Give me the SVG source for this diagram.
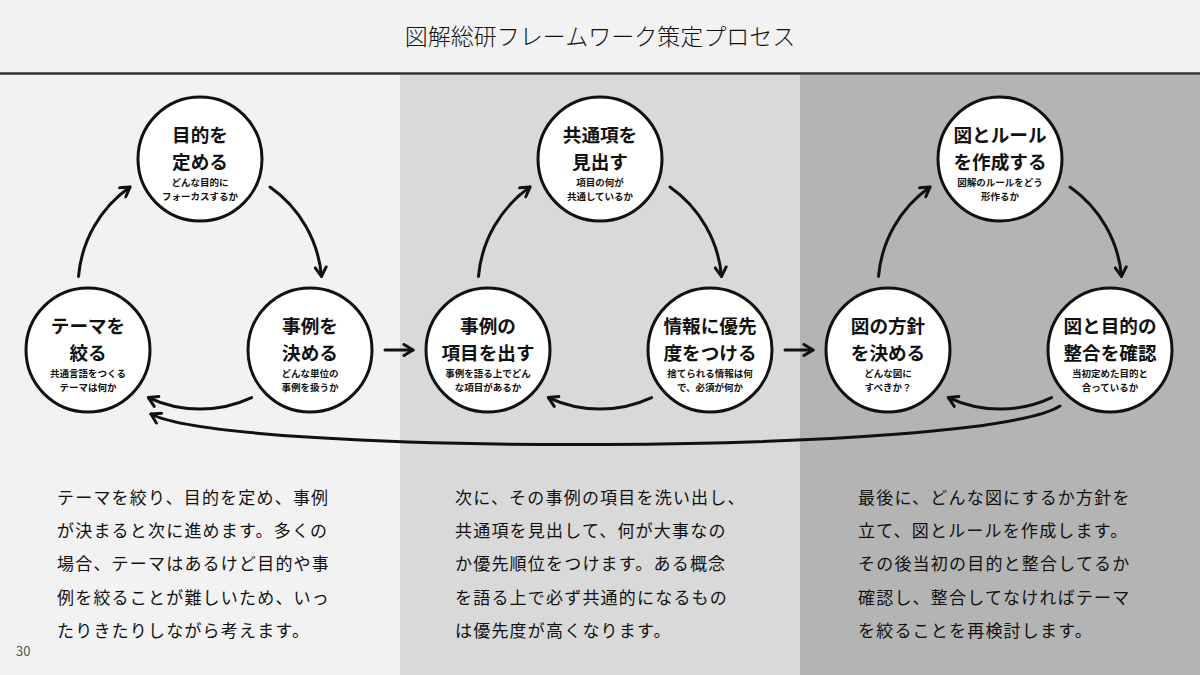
<svg xmlns="http://www.w3.org/2000/svg" width="1200" height="675" viewBox="0 0 1200 675">
<style>
text{font-family:"Noto Sans CJK JP","Noto Sans",sans-serif;fill:#111}
.lbl{text-anchor:middle;font-weight:700}
.main{font-size:18.6px}
.sub{font-size:9.5px}
.para{font-size:17px;letter-spacing:1.2px}
.node circle{fill:#fff;stroke:#111;stroke-width:3}
.conn path{fill:none;stroke:#111;stroke-width:3;stroke-linecap:round}
</style>
<defs>
<marker id="head" markerUnits="userSpaceOnUse" viewBox="0 0 14 14" markerWidth="14" markerHeight="14" refX="11" refY="7" orient="auto">
<path d="M2,1.5 L11,7 L2,12.5" fill="none" stroke="#111" stroke-width="3" stroke-linecap="round" stroke-linejoin="round"/>
</marker>
</defs>
<rect x="0" y="0" width="1200" height="675" fill="#f2f2f2"/>
<rect x="400" y="75" width="400" height="600" fill="#d9d9d9"/>
<rect x="800" y="75" width="400" height="600" fill="#b4b4b4"/>
<line x1="0" y1="73.5" x2="1200" y2="73.5" stroke="#333" stroke-width="2.5"/>
<text x="600" y="45" text-anchor="middle" style="font-size:23px;font-weight:300">図解総研フレームワーク策定プロセス</text>

<g class="conn" id="connectors">
<path d="M78.5,276.4 A122,122 0 0 1 130,187.1" marker-end="url(#head)"/>
<path d="M270,187.1 A122,122 0 0 1 321.5,276.4" marker-end="url(#head)"/>
<path d="M251.6,397.6 A122,122 0 0 1 148.4,397.6" marker-end="url(#head)"/>
<path d="M478.5,276.4 A122,122 0 0 1 530,187.1" marker-end="url(#head)"/>
<path d="M670,187.1 A122,122 0 0 1 721.5,276.4" marker-end="url(#head)"/>
<path d="M651.6,397.6 A122,122 0 0 1 548.4,397.6" marker-end="url(#head)"/>
<path d="M878.5,276.4 A122,122 0 0 1 930,187.1" marker-end="url(#head)"/>
<path d="M1070,187.1 A122,122 0 0 1 1121.5,276.4" marker-end="url(#head)"/>
<path d="M1051.6,397.6 A122,122 0 0 1 948.4,397.6" marker-end="url(#head)"/>
<path d="M385,350 L413,350" marker-end="url(#head)"/>
<path d="M785,350 L813,350" marker-end="url(#head)"/>
<path d="M1060,406 C 980,456 230,456 151,414" marker-end="url(#head)"/>
</g>

<g class="node" id="n1-purpose">
<circle cx="200" cy="159" r="62"/>
<text class="lbl"><tspan class="main" x="200" y="142">目的を</tspan><tspan class="main" x="200" y="169">定める</tspan><tspan class="sub" x="200" y="185.5">どんな目的に</tspan><tspan class="sub" x="200" y="199.5">フォーカスするか</tspan></text>
</g>
<g class="node" id="n1-theme">
<circle cx="88" cy="350" r="62"/>
<text class="lbl"><tspan class="main" x="88" y="333">テーマを</tspan><tspan class="main" x="88" y="360">絞る</tspan><tspan class="sub" x="88" y="376.5">共通言語をつくる</tspan><tspan class="sub" x="88" y="390.5">テーマは何か</tspan></text>
</g>
<g class="node" id="n1-case">
<circle cx="310" cy="350" r="62"/>
<text class="lbl"><tspan class="main" x="310" y="333">事例を</tspan><tspan class="main" x="310" y="360">決める</tspan><tspan class="sub" x="310" y="376.5">どんな単位の</tspan><tspan class="sub" x="310" y="390.5">事例を扱うか</tspan></text>
</g>

<g class="node" id="n2-common">
<circle cx="600" cy="159" r="62"/>
<text class="lbl"><tspan class="main" x="600" y="142">共通項を</tspan><tspan class="main" x="600" y="169">見出す</tspan><tspan class="sub" x="600" y="185.5">項目の何が</tspan><tspan class="sub" x="600" y="199.5">共通しているか</tspan></text>
</g>
<g class="node" id="n2-items">
<circle cx="488" cy="350" r="62"/>
<text class="lbl"><tspan class="main" x="488" y="333">事例の</tspan><tspan class="main" x="488" y="360">項目を出す</tspan><tspan class="sub" x="488" y="376.5">事例を語る上でどん</tspan><tspan class="sub" x="488" y="390.5">な項目があるか</tspan></text>
</g>
<g class="node" id="n2-priority">
<circle cx="710" cy="350" r="62"/>
<text class="lbl"><tspan class="main" x="710" y="333">情報に優先</tspan><tspan class="main" x="710" y="360">度をつける</tspan><tspan class="sub" x="710" y="376.5">捨てられる情報は何</tspan><tspan class="sub" x="710" y="390.5">で、必須が何か</tspan></text>
</g>

<g class="node" id="n3-rules">
<circle cx="1000" cy="159" r="62"/>
<text class="lbl"><tspan class="main" x="1000" y="142">図とルール</tspan><tspan class="main" x="1000" y="169">を作成する</tspan><tspan class="sub" x="1000" y="185.5">図解のルールをどう</tspan><tspan class="sub" x="1000" y="199.5">形作るか</tspan></text>
</g>
<g class="node" id="n3-policy">
<circle cx="888" cy="350" r="62"/>
<text class="lbl"><tspan class="main" x="888" y="333">図の方針</tspan><tspan class="main" x="888" y="360">を決める</tspan><tspan class="sub" x="888" y="376.5">どんな図に</tspan><tspan class="sub" x="888" y="390.5">すべきか？</tspan></text>
</g>
<g class="node" id="n3-check">
<circle cx="1110" cy="350" r="62"/>
<text class="lbl"><tspan class="main" x="1110" y="333">図と目的の</tspan><tspan class="main" x="1110" y="360">整合を確認</tspan><tspan class="sub" x="1110" y="376.5">当初定めた目的と</tspan><tspan class="sub" x="1110" y="390.5">合っているか</tspan></text>
</g>

<g id="text1">
<text class="para" x="57" y="504">テーマを絞り、目的を定め、事例</text>
<text class="para" x="57" y="537">が決まると次に進めます。多くの</text>
<text class="para" x="57" y="570">場合、テーマはあるけど目的や事</text>
<text class="para" x="57" y="604">例を絞ることが難しいため、いっ</text>
<text class="para" x="57" y="637">たりきたりしながら考えます。</text>
</g>
<g id="text2">
<text class="para" x="455" y="504">次に、その事例の項目を洗い出し、</text>
<text class="para" x="455" y="537">共通項を見出して、何が大事なの</text>
<text class="para" x="455" y="570">か優先順位をつけます。ある概念</text>
<text class="para" x="455" y="604">を語る上で必ず共通的になるもの</text>
<text class="para" x="455" y="637">は優先度が高くなります。</text>
</g>
<g id="text3">
<text class="para" x="858" y="504">最後に、どんな図にするか方針を</text>
<text class="para" x="858" y="537">立て、図とルールを作成します。</text>
<text class="para" x="858" y="570">その後当初の目的と整合してるか</text>
<text class="para" x="858" y="604">確認し、整合してなければテーマ</text>
<text class="para" x="858" y="637">を絞ることを再検討します。</text>
</g>
<text x="16" y="656" style="font-size:13px;fill:#555">30</text>
</svg>
